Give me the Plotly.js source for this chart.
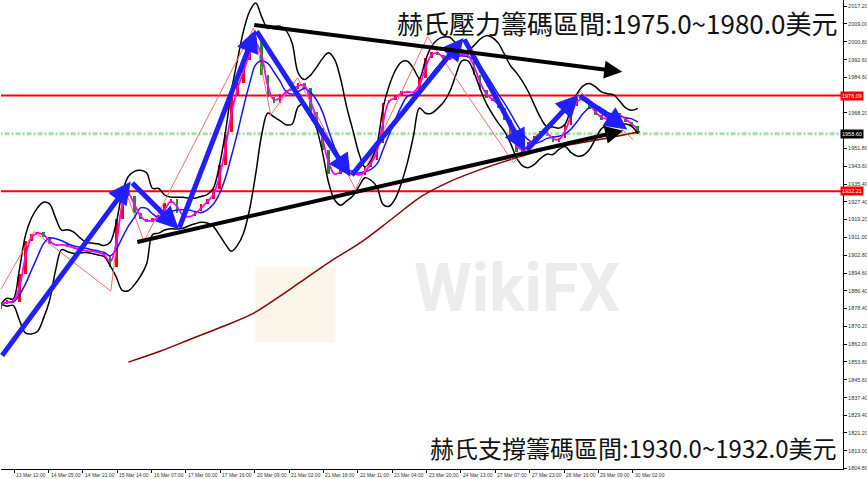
<!DOCTYPE html>
<html><head><meta charset="utf-8">
<script src="https://cdn.plot.ly/plotly-3.0.1.min.js"></script>
<style>html,body{margin:0;padding:0;background:#fff}#chart{width:867px;height:479px}</style>
</head><body><div id="chart"></div>
<script>
// closes every 3 hourly bars
const closes = [1880.3,1882.1,1881.2,1894.0,1909.2,1912.4,1913.3,1911.0,1907.8,1907.3,
1907.8,1906.4,1906.0,1905.0,1904.6,1904.6,1903.7,1902.3,1897.3,1919.2,
1932.1,1929.8,1922.4,1919.2,1917.9,1919.7,1921.1,1926.6,1928.4,1922.0,
1920.2,1920.6,1922.9,1926.1,1928.4,1933.0,1944.4,1959.5,1976.5,1982.0,
1992.5,1998.0,2002.6,1985.6,1975.6,1972.8,1977.0,1978.8,1979.2,1982.0,
1979.7,1968.7,1961.4,1951.3,1939.9,1940.3,1941.7,1941.7,1939.9,1939.4,
1943.1,1946.7,1954.5,1972.8,1974.2,1976.0,1978.3,1977.4,1977.9,1984.3,
1993.4,1996.2,1994.8,1992.5,1993.9,1994.4,1995.7,1993.4,1985.6,1978.8,
1975.1,1973.7,1970.5,1965.0,1955.9,1950.4,1951.8,1955.0,1957.7,1960.0,
1957.7,1955.0,1956.8,1962.7,1971.5,1975.1,1973.7,1970.1,1967.3,1965.0,
1966.0,1968.2,1966.4,1964.1,1962.3,1958.6];
const barStep = 3;

// long moving average (dark red)
const maLongBars = [63,79,94,109,124,138,148,163,178,193,208,222,237,252,267,282,296,316];
const maLongVals = [1853.7,1858.8,1864.3,1869.8,1875.7,1884.0,1890.4,1900.0,1908.7,1919.2,1929.8,1936.6,1942.1,1946.7,1950.8,1953.6,1955.9,1959.5];

// thin red zigzag
const zzBars = [0,16.3,54.3,60.8,70.7,125,133.4,146.7,175.4,211,253.5,286.6,312.7];
const zzVals = [1887.2,1913.7,1886.3,1934.4,1909.2,2007.2,1967.3,1984.3,1933.0,2003.1,1945.3,1977.9,1955.9];

// thick blue wave arrows
const waveBars = [0,64.2,87.9,126,172.9,228.8,259.4,285.6,309.8];
const waveVals = [1856.0,1936.6,1914.7,2006.3,1938.9,2002.6,1950.4,1976.5,1960.5];

// black trend lines [x0,y0,x1,y1]
const trendUpper = [124.5,2008.6,307.3,1987.0];
const trendLower = [66.7,1908.7,307.8,1960.0];

const resistLevel = 1976.09, supportLevel = 1932.21, bidLevel = 1958.60;

const yTicks = ['2017.20','2009.00','2000.80','1992.60','1984.60','1968.20','1951.80','1943.60','1935.40','1927.40','1919.20','1911.00','1902.80','1894.60','1886.40','1878.40','1870.20','1862.00','1853.80','1845.60','1837.40','1829.40','1821.20','1813.00','1804.80'];
const xTickBars = [-10.5,6.5,23.5,40.5,57.5,74.5,91.5,108.5,125.5,142.5,159.5,176.5,193.5,210.5,227.5,244.5,261.5,278.5,295.5,312.5];
const xTickLabels = ['12 Mar 19:00','13 Mar 12:00','14 Mar 05:00','14 Mar 21:00','15 Mar 14:00','16 Mar 07:00','17 Mar 00:00','17 Mar 16:00','20 Mar 09:00','21 Mar 02:00','21 Mar 18:00','22 Mar 11:00','23 Mar 04:00','23 Mar 20:00','24 Mar 13:00','27 Mar 07:00','27 Mar 23:00','28 Mar 16:00','29 Mar 09:00','30 Mar 02:00'];

const titleTop = '赫氏壓力籌碼區間:1975.0~1980.0美元';
const titleBottom = '赫氏支撐籌碼區間:1930.0~1932.0美元';

// ---- derived ----
const xs = closes.map((_, i) => i * barStep);
const opens = closes.map((c, i) => i === 0 ? 1878.0 : closes[i - 1]);
const bodyLo = closes.map((c, i) => Math.min(c, opens[i]));
const bodyH = closes.map((c, i) => Math.max(Math.abs(c - opens[i]), 0.4));
const bodyCol = closes.map((c, i) => c >= opens[i] ? '#ff0000' : '#00a000');
function sma(arr, n) { return arr.map((_, i) => { const s = arr.slice(Math.max(0, i - n + 1), i + 1); return s.reduce((a, b) => a + b, 0) / s.length; }); }
function band(arr, n, k) {
  const up = [], lo = [];
  arr.forEach((_, i) => {
    const s = arr.slice(Math.max(0, i - n + 1), i + 1);
    const m = s.reduce((a, b) => a + b, 0) / s.length;
    const sd = Math.sqrt(s.reduce((a, b) => a + (b - m) * (b - m), 0) / s.length);
    up.push(m + k * sd); lo.push(m - k * sd);
  });
  return [up, lo];
}
const maFast = sma(closes, 2);
const maMid = sma(closes, 5);
const [bbUp, bbLo] = band(closes, 7, 2);

const traces = [
  {type:'scatter', mode:'lines', x:[-20, 420], y:[bidLevel, bidLevel], line:{color:'#a8dca8', width:3, dash:'5px,2px,2px,2px'}, hoverinfo:'skip'},
  {type:'scatter', mode:'lines', x:[-20, 420], y:[resistLevel, resistLevel], line:{color:'#ff0000', width:2}, hoverinfo:'skip'},
  {type:'scatter', mode:'lines', x:[-20, 420], y:[supportLevel, supportLevel], line:{color:'#ff0000', width:2}, hoverinfo:'skip'},
  {type:'scatter', mode:'lines', x:maLongBars, y:maLongVals, line:{color:'#8b0000', width:1.5, shape:'spline'}},
  {type:'scatter', mode:'lines', x:xs, y:bbUp, line:{color:'#000', width:1.5, shape:'spline'}},
  {type:'scatter', mode:'lines', x:xs, y:bbLo, line:{color:'#000', width:1.5, shape:'spline'}},
  {type:'scatter', mode:'lines', x:zzBars, y:zzVals, line:{color:'#ff6a6a', width:1}},
  {type:'bar', x:xs, base:bodyLo, y:bodyH, width:1.3, marker:{color:bodyCol, line:{width:0}}},
  {type:'scatter', mode:'lines', x:xs, y:maMid, line:{color:'#1414ff', width:1.5, shape:'spline'}},
  {type:'scatter', mode:'lines', x:xs, y:maFast, line:{color:'#ff00ff', width:1.8, shape:'spline'}}
];

function arrow(x0, y0, x1, y1, color, w) {
  return {x:x1, y:y1, ax:x0, ay:y0, xref:'x', yref:'y', axref:'x', ayref:'y', text:'', showarrow:true,
          arrowhead:2, arrowsize:0.9, arrowwidth:w, arrowcolor:color, standoff:0, startstandoff:0};
}
const ann = [];
ann.push({xref:'paper', yref:'paper', x:0.613, y:0.385, xanchor:'center', yanchor:'middle', text:'<b>WikiFX</b>', showarrow:false, font:{size:66, color:'rgba(195,195,195,0.32)', family:'Roboto'}});
for (let i = 1; i < waveBars.length; i++) ann.push(arrow(waveBars[i-1], waveVals[i-1], waveBars[i], waveVals[i], '#1f1fff', 5));
ann.push(arrow(trendUpper[0], trendUpper[1], trendUpper[2], trendUpper[3], '#000', 4));
ann.push(arrow(trendLower[0], trendLower[1], trendLower[2], trendLower[3], '#000', 4));
ann.push({xref:'paper', yref:'y', x:0.997, y:resistLevel, xanchor:'left', text:resistLevel.toFixed(2), showarrow:false, bgcolor:'#ff0000', font:{color:'#fff', size:5.5, family:'Liberation Sans'}, borderpad:1});
ann.push({xref:'paper', yref:'y', x:0.997, y:supportLevel, xanchor:'left', text:supportLevel.toFixed(2), showarrow:false, bgcolor:'#ff0000', font:{color:'#fff', size:5.5, family:'Liberation Sans'}, borderpad:1});
ann.push({xref:'paper', yref:'y', x:0.997, y:bidLevel, xanchor:'left', text:bidLevel.toFixed(2), showarrow:false, bgcolor:'#000', font:{color:'#fff', size:5.5, family:'Liberation Sans'}, borderpad:1});
xTickBars.forEach((b, i) => ann.push({xref:'x', yref:'paper', x:b, y:0, xanchor:'left', yanchor:'top', xshift:0, yshift:-1, text:xTickLabels[i], showarrow:false, font:{size:5, color:'#333', family:'Liberation Sans'}}));
ann.push({xref:'paper', yref:'paper', x:0.995, y:0.995, xanchor:'right', yanchor:'top', text:titleTop, showarrow:false, font:{size:26, color:'#111', family:'Noto Sans CJK TC'}});
ann.push({xref:'paper', yref:'paper', x:0.995, y:0.005, xanchor:'right', yanchor:'bottom', text:titleBottom, showarrow:false, font:{size:24, color:'#111', family:'Noto Sans CJK TC'}});

const layout = {
  width:867, height:479, margin:{l:1, r:24, t:0, b:10},
  paper_bgcolor:'#fff', plot_bgcolor:'#fff', showlegend:false, dragmode:false, bargap:0,
  xaxis:{range:[0, 416.5], showgrid:false, zeroline:false, showline:true, linecolor:'#000', linewidth:1,
         tickmode:'array', tickvals:xTickBars, ticks:'outside', ticklen:3, tickcolor:'#000', showticklabels:false, fixedrange:true},
  yaxis:{range:[1804.6, 2020.0], side:'right', showgrid:false, zeroline:false, showline:true, linecolor:'#000', linewidth:1,
         tickmode:'array', tickvals:yTicks.map(Number), ticktext:yTicks, ticks:'outside', ticklen:3, tickcolor:'#000',
         tickfont:{size:5.5, color:'#333', family:'Liberation Sans'}, fixedrange:true},
  shapes:[{type:'rect', xref:'paper', yref:'paper', x0:0.302, x1:0.397, y0:0.27, y1:0.43, fillcolor:'rgba(240,215,170,0.25)', line:{width:0}, layer:'below'}],
  annotations:ann
};
Plotly.newPlot('chart', traces, layout, {displayModeBar:false, staticPlot:true});
</script></body></html>
